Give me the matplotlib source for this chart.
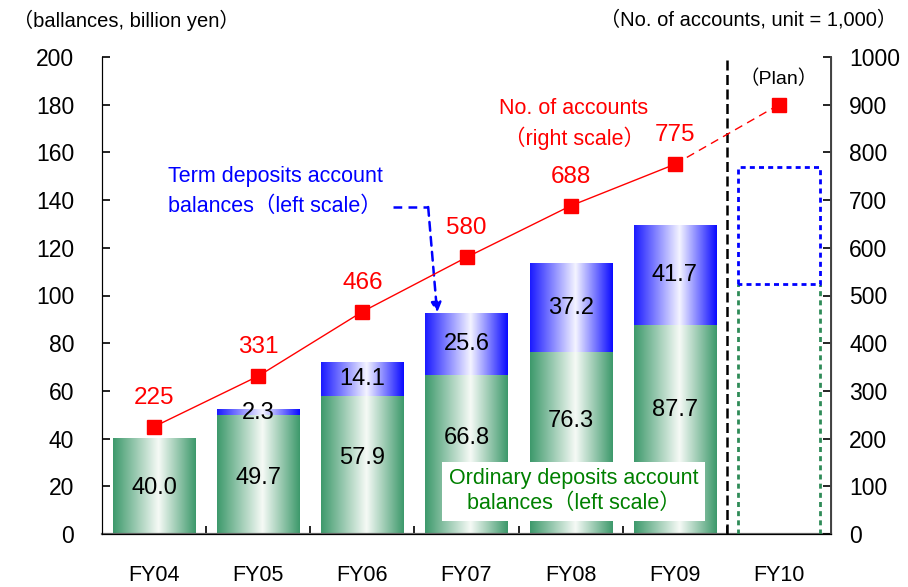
import numpy as np
import matplotlib
matplotlib.use("Agg")
import matplotlib.pyplot as plt
from matplotlib.colors import LinearSegmentedColormap

plt.rcParams['font.family'] = ['Liberation Sans', 'Noto Sans CJK JP', 'DejaVu Sans']

years = ['FY04', 'FY05', 'FY06', 'FY07', 'FY08', 'FY09', 'FY10']
ordinary = [40.0, 49.7, 57.9, 66.8, 76.3, 87.7]
term = [0.0, 2.3, 14.1, 25.6, 37.2, 41.7]
term_labels = [None, '2.3', '14.1', '25.6', '37.2', '41.7']
ordinary_label_y = [19.3, 23.5, 31.9, 40.3, 47.4, 52.0]
plan_ordinary = 105
plan_term = 49
accounts = [225, 331, 466, 580, 688, 775]
plan_accounts = 900

W, H = 908, 587
fig = plt.figure(figsize=(W / 100, H / 100), dpi=100)
ax = fig.add_axes([102 / W, (H - 534) / H, (831 - 102) / W, (534 - 57) / H])
ax2 = ax.twinx()

bw = 0.79
green_cm = LinearSegmentedColormap.from_list('g', [(0, '#3d996b'), (0.55, '#f6faf6'), (1, '#3d996b')])
blue_cm = LinearSegmentedColormap.from_list('b', [(0, '#1a1aff'), (0.55, '#f4f4ff'), (1, '#0a0aff')])
grad = np.linspace(0, 1, 256).reshape(1, -1)

x = np.arange(len(ordinary))
for i in x:
    ax.imshow(grad, cmap=green_cm, extent=[i - bw / 2, i + bw / 2, 0, ordinary[i]],
              aspect='auto', zorder=2, interpolation='bilinear')
    if term[i] > 0:
        ax.imshow(grad, cmap=blue_cm, extent=[i - bw / 2, i + bw / 2, ordinary[i], ordinary[i] + term[i]],
                  aspect='auto', zorder=2, interpolation='bilinear')
        ax.text(i, ordinary[i] + term[i] / 2, term_labels[i], ha='center', va='center',
                fontsize=17, color='black', zorder=4)
    ax.text(i, ordinary_label_y[i], f'{ordinary[i]:.1f}', ha='center', va='center',
            fontsize=17, color='black', zorder=4)

# plan box for FY10
px = len(ordinary)
dots = (0, (1.8, 1.5))
ax.plot([px - bw / 2, px - bw / 2], [0, plan_ordinary], color='#2e8b57', lw=2.0, ls=dots, zorder=3)
ax.plot([px + bw / 2, px + bw / 2], [0, plan_ordinary], color='#2e8b57', lw=2.0, ls=dots, zorder=3)
ax.plot([px - bw / 2, px - bw / 2, px + bw / 2, px + bw / 2, px - bw / 2],
        [plan_ordinary, plan_ordinary + plan_term, plan_ordinary + plan_term, plan_ordinary, plan_ordinary],
        color='#0000ff', lw=2.0, ls=dots, zorder=3)

# divider
ax.plot([5.5, 5.5], [0, 200], color='black', lw=1.8, ls=(0, (4, 1.8)), zorder=3, clip_on=False)

ax.set_xlim(-0.5, 6.5)
ax.set_ylim(0, 200)
ax.set_yticks(np.arange(0, 201, 20))
ax.set_xticks(np.arange(7))
ax.set_xticklabels(years)
ax.set_xticks(np.arange(0.5, 6.5, 1), minor=True)
ax.tick_params(axis='x', which='major', length=0, pad=22, labelsize=15.5)
ax.tick_params(axis='x', which='minor', direction='in', length=6, width=1.2, color='black')
ax.tick_params(axis='y', direction='in', length=6, width=1.2, pad=20, labelsize=16.5)
for s in ['top']:
    ax.spines[s].set_visible(False)
    ax2.spines[s].set_visible(False)
ax.spines['left'].set_color('#222222')
ax.spines['bottom'].set_color('#666666')
ax.spines['bottom'].set_linewidth(1.6)
ax2.spines['right'].set_color('#444444')
ax2.spines['right'].set_linewidth(1.4)

ax2.set_ylim(0, 1000)
ax2.set_yticks(np.arange(0, 1001, 100))
ax2.tick_params(axis='y', direction='in', length=6, width=1.2, pad=13, labelsize=16.5)

xa = np.arange(len(accounts))
ax2.plot(xa, accounts, color='red', lw=1, marker='s', markersize=10, zorder=5)
ax2.plot([xa[-1], px], [accounts[-1], plan_accounts], color='red', lw=1, ls=(0, (6, 4)), zorder=5)
ax2.plot([px], [plan_accounts], color='red', marker='s', markersize=10, ls='none', zorder=5)
for i, v in enumerate(accounts):
    ax2.annotate(str(v), (i, v), xytext=(0, 21), textcoords='offset points',
                 ha='center', va='center', color='red', fontsize=17.5)

ax2.text(px, 955, '（Plan）', ha='center', va='center', fontsize=14)
ax2.text(4.03, 893, 'No. of accounts', ha='center', va='center', color='red', fontsize=15.5)
ax2.text(4.04, 830, '（right scale）', ha='center', va='center', color='red', fontsize=15.5)

ax.text(1.17, 150.0, 'Term deposits account', ha='center', va='center', color='#0000ff', fontsize=15.5)
ax.text(1.16, 137.3, 'balances（left scale）', ha='center', va='center', color='#0000ff', fontsize=15.5)

ax.text(4.03, 18.0, 'Ordinary deposits account\nbalances（left scale）', ha='center', va='center',
        color='#008000', fontsize=15.5, linespacing=1.2, zorder=6,
        bbox=dict(boxstyle='square,pad=0.32', fc='white', ec='none'))

# arrow
ax.plot([2.295, 2.632], [137.1, 137.1], color='#0000ff', lw=1.8, ls=(0, (3.5, 2.5)), zorder=6)
ax.annotate('', xy=(2.718, 92.7), xytext=(2.632, 137.1),
            arrowprops=dict(arrowstyle='-|>', color='#0000ff', lw=1.8, ls=(0, (3.5, 2.5)),
                            mutation_scale=15, shrinkA=0, shrinkB=0), zorder=6)

fig.text(13 / W, 1 - 20 / H, '（ballances, billion yen）', ha='left', va='center', fontsize=14.5)
fig.text(897 / W, 1 - 20 / H, '（No. of accounts, unit = 1,000）', ha='right', va='center', fontsize=14.5)

fig.savefig('out.png', dpi=100)
